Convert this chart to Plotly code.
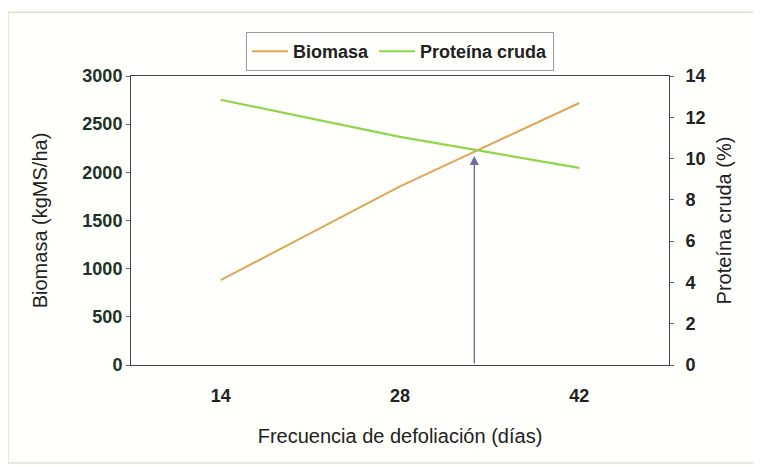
import plotly.graph_objects as go

dias = [14, 28, 42]
biomasa = [880, 1855, 2720]
proteina = [12.85, 11.05, 9.55]
x_ticks = [14, 28, 42]
y1_ticks = [0, 500, 1000, 1500, 2000, 2500, 3000]
y2_ticks = [0, 2, 4, 6, 8, 10, 12, 14]
arrow_x = 33.8
arrow_y = 2170

FONT = "Liberation Sans, Arial, sans-serif"
TXT = "#222222"

fig = go.Figure()
fig.add_trace(go.Scatter(x=dias, y=biomasa, mode="lines", name="Biomasa",
                         line=dict(color="#e2a456", width=2)))
fig.add_trace(go.Scatter(x=dias, y=proteina, mode="lines", name="Proteína cruda",
                         line=dict(color="#8fd64a", width=2.2), yaxis="y2"))

fig.add_annotation(x=arrow_x, y=arrow_y, ax=arrow_x, ay=0, xref="x", yref="y",
                   axref="x", ayref="y", text="", showarrow=True,
                   arrowhead=2, arrowsize=1.4, arrowwidth=1.3, arrowcolor="#6b6fa6")

fig.add_shape(type="rect", xref="paper", yref="paper",
              x0=-0.2286, x1=1.16, y0=-0.339, y1=1.221,
              line=dict(color="#cfcfc6", width=1), layer="below")

fig.update_layout(
    width=761, height=467,
    margin=dict(l=123, r=100, t=68, b=110),
    paper_bgcolor="#fffffb", plot_bgcolor="#fffffb",
    font=dict(family=FONT, color=TXT),
    showlegend=True,
    legend=dict(orientation="h", x=0.5, xanchor="center", y=1.152, yanchor="top",
                bordercolor="#9a9a9a", borderwidth=1, bgcolor="#fffffb",
                font=dict(size=18, family=FONT, color=TXT, weight="bold"), itemwidth=36),
    xaxis=dict(range=[7, 49], tickvals=x_ticks, ticktext=[str(v) for v in x_ticks],
               showgrid=False, zeroline=False, showline=True, linecolor="#444",
               linewidth=1, mirror=True, ticks="", ticklabelstandoff=14,
               tickfont=dict(size=18, family=FONT, color=TXT, weight="bold"),
               title=dict(text="Frecuencia de defoliación (días)",
                          font=dict(size=20, family=FONT, color=TXT), standoff=24)),
    yaxis=dict(range=[0, 3000], tickvals=y1_ticks, showgrid=False, zeroline=False,
               showline=True, linecolor="#444", linewidth=1, ticks="outside",
               ticklen=4, tickcolor="#666",
               tickfont=dict(size=18, family=FONT, color="#1d3328", weight="bold"),
               title=dict(text="Biomasa (kgMS/ha)",
                          font=dict(size=20, family=FONT, color=TXT), standoff=29)),
    yaxis2=dict(range=[0, 14], tickvals=y2_ticks, overlaying="y", side="right",
                showgrid=False, zeroline=False, showline=True, linecolor="#444",
                linewidth=1, ticks="outside", ticklen=4, tickcolor="#666",
                ticklabelstandoff=8,
                tickfont=dict(size=18, family=FONT, color=TXT, weight="bold"),
                title=dict(text="Proteína cruda (%)",
                           font=dict(size=20, family=FONT, color=TXT), standoff=12)),
)

fig.write_html("out.html")
